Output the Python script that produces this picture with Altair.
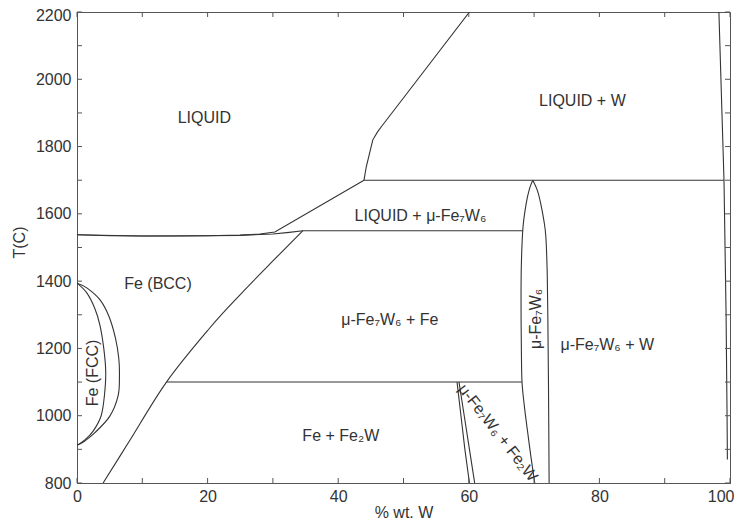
import altair as alt
import pandas as pd

# ---------------- data ----------------
liq_fe_x = [0, 5, 10, 15, 20, 25, 28, 30.3, 43.95]
liq_fe_T = [1538, 1535, 1534, 1534, 1535, 1537, 1540, 1546, 1700]

sol_fe_x = [0, 10, 20, 25, 30, 32.5, 34.6]
sol_fe_T = [1538, 1534, 1535, 1536, 1540, 1545, 1550]

liq_w_x = [43.95, 44.3, 44.8, 45.3, 46.0, 46.6, 47.4, 60.1]
liq_w_T = [1700, 1740, 1780, 1820, 1843, 1859, 1879, 2200]

bcc_x = [4.0, 8.0, 13.7, 20.3, 25.0, 30.0, 34.6]
bcc_T = [800, 924, 1100, 1260, 1360, 1460, 1550]

per1550_x = [34.6, 68.3]
per1550_T = [1550, 1550]
per1700_x = [43.95, 99.08]
per1700_T = [1700, 1700]
eut1100_x = [13.7, 68.15]
eut1100_T = [1100, 1100]

mu_left_x = [69.8, 69.3, 68.8, 68.3, 68.05, 68.0, 68.05, 68.15, 68.5, 68.9, 69.5, 70.1]
mu_left_T = [1700, 1675, 1632, 1560, 1450, 1335, 1200, 1100, 1030, 968, 880, 800]

mu_right_x = [69.8, 70.5, 71.0, 71.5, 71.8, 72.0, 72.1, 72.2, 72.3]
mu_right_T = [1700, 1670, 1632, 1580, 1532, 1430, 1300, 1100, 800]

fe2w_left_x = [58.2, 58.8, 59.4, 60.1]
fe2w_left_T = [1100, 1000, 900, 800]
fe2w_right_x = [58.5, 59.3, 60.1, 60.9]
fe2w_right_T = [1100, 1000, 900, 800]

fcc_out_x = [0, 1.5, 3.5, 4.9, 5.9, 6.4, 6.5, 6.3, 5.0, 2.7, 1.2, 0]
fcc_out_T = [1394, 1380, 1345, 1295, 1230, 1170, 1120, 1060, 998, 949, 925, 912]
fcc_in_x = [0, 1.5, 2.7, 3.5, 4.1, 4.4, 4.2, 3.7, 2.5, 1.2, 0]
fcc_in_T = [1394, 1365, 1320, 1270, 1200, 1130, 1060, 1000, 955, 928, 912]

w_solvus_x = [98.3, 99.08, 99.4, 99.55, 99.6]
w_solvus_T = [2200, 1700, 1300, 1000, 870]

labels_h = ["LIQUID", "LIQUID + W", "LIQUID + μ-Fe₇W₆", "Fe (BCC)",
            "μ-Fe₇W₆ + Fe", "Fe + Fe₂W", "μ-Fe₇W₆ + W"]
labels_h_x = [19.5, 77.4, 52.6, 12.4, 47.9, 40.4, 81.2]
labels_h_T = [1885, 1936, 1594, 1392, 1285, 940, 1211]

labels_v = ["Fe (FCC)", "μ-Fe₇W₆"]
labels_v_x = [2.45, 70.35]
labels_v_T = [1127, 1288]

labels_d = ["μ-Fe₇W₆ + Fe₂W"]
labels_d_x = [64.45]
labels_d_T = [949]

x_ticks = [0, 10, 20, 30, 40, 50, 60, 70, 80, 90, 100]
y_ticks = [800, 900, 1000, 1100, 1200, 1300, 1400, 1500, 1600, 1700,
           1800, 1900, 2000, 2100, 2200]

# ---------------- build tables ----------------
straight = [
    ("liq_fe", liq_fe_x, liq_fe_T), ("sol_fe", sol_fe_x, sol_fe_T),
    ("liq_w", liq_w_x, liq_w_T),
    ("p1550", per1550_x, per1550_T), ("p1700", per1700_x, per1700_T),
    ("e1100", eut1100_x, eut1100_T),
    ("f2l", fe2w_left_x, fe2w_left_T), ("f2r", fe2w_right_x, fe2w_right_T),
    ("ws", w_solvus_x, w_solvus_T),
]
smooth = [
    ("bcc", bcc_x, bcc_T), ("mu_l", mu_left_x, mu_left_T),
    ("mu_r", mu_right_x, mu_right_T), ("fcc_o", fcc_out_x, fcc_out_T),
    ("fcc_i", fcc_in_x, fcc_in_T),
]


def table(curves):
    rows = []
    for name, xs, ts in curves:
        for i, (xv, tv) in enumerate(zip(xs, ts)):
            rows.append({"curve": name, "x": xv, "T": tv, "i": i})
    return pd.DataFrame(rows)


W, H = 653, 471
FONT = "Liberation Sans"
INK = "#333333"

xscale = alt.Scale(domain=[0, 100], nice=False, zero=False)
yscale = alt.Scale(domain=[800, 2200], nice=False, zero=False)

xaxis = alt.Axis(values=[0, 20, 40, 60, 80, 100], ticks=False, grid=False, format="d",
                 labelFont=FONT, labelFontSize=16, labelColor=INK, labelPadding=5,
                 labelAlign=alt.expr("datum.value == 100 ? 'right' : 'center'"),
                 labelOffset=alt.expr("datum.value == 100 ? 4 : 0"),
                 domainColor="#555555", title="% wt. W", titleFont=FONT,
                 titleFontSize=16, titleFontWeight="normal", titleColor=INK,
                 titleBaseline="top", titleY=21)
yaxis = alt.Axis(values=[800, 1000, 1200, 1400, 1600, 1800, 2000, 2200], ticks=False,
                 grid=False, format="d", labelFont=FONT, labelFontSize=16, labelColor=INK,
                 labelPadding=6, labelOffset=alt.expr("datum.value == 2200 ? 3 : 0"),
                 domainColor="#555555", title="T(C)", titleFont=FONT,
                 titleFontSize=16, titleFontWeight="normal", titleColor=INK,
                 titleX=-50, titleY=230, titleBaseline="bottom", titleAngle=270)

lines_a = alt.Chart(table(straight)).mark_line(
    color=INK, strokeWidth=1.1, interpolate="linear", clip=True).encode(
    x=alt.X("x:Q", scale=xscale, axis=xaxis),
    y=alt.Y("T:Q", scale=yscale, axis=yaxis),
    detail="curve:N",
    order="i:Q",
)
lines_b = alt.Chart(table(smooth)).mark_line(
    color=INK, strokeWidth=1.1, interpolate="cardinal", clip=True).encode(
    x="x:Q", y="T:Q", detail="curve:N", order="i:Q",
)

txt_h = alt.Chart(pd.DataFrame({"x": labels_h_x, "T": labels_h_T, "t": labels_h})).mark_text(
    font=FONT, fontSize=16, color=INK, baseline="middle", align="center").encode(
    x="x:Q", y="T:Q", text="t:N")
txt_v = alt.Chart(pd.DataFrame({"x": labels_v_x, "T": labels_v_T, "t": labels_v})).mark_text(
    font=FONT, fontSize=16, color=INK, baseline="middle", align="center", angle=270).encode(
    x="x:Q", y="T:Q", text="t:N")
txt_d = alt.Chart(pd.DataFrame({"x": labels_d_x, "T": labels_d_T, "t": labels_d})).mark_text(
    font=FONT, fontSize=16, color=INK, baseline="middle", align="center", angle=52).encode(
    x="x:Q", y="T:Q", text="t:N")

xt = pd.DataFrame({"xt": x_ticks})
yt = pd.DataFrame({"yt": y_ticks})
tick_style = dict(color="#555555", strokeWidth=1)
tb = alt.Chart(xt).mark_rule(**tick_style).encode(
    x="xt:Q", y=alt.value(H), y2=alt.value(H - 5))
tt = alt.Chart(xt).mark_rule(**tick_style).encode(
    x="xt:Q", y=alt.value(0), y2=alt.value(5))
tl = alt.Chart(yt).mark_rule(**tick_style).encode(
    y="yt:Q", x=alt.value(0), x2=alt.value(5))
tr = alt.Chart(yt).mark_rule(**tick_style).encode(
    y="yt:Q", x=alt.value(W), x2=alt.value(W - 5))

chart = alt.layer(lines_a, lines_b, txt_h, txt_v, txt_d, tb, tt, tl, tr).properties(
    width=W, height=H,
    autosize=alt.AutoSizeParams(type="none"),
    padding={"left": 69, "top": 4, "right": 4, "bottom": 37},
    background="white",
).configure_view(stroke="#555555", strokeWidth=1)

chart.save("out.html", embed_options={"renderer": "svg", "actions": False})
